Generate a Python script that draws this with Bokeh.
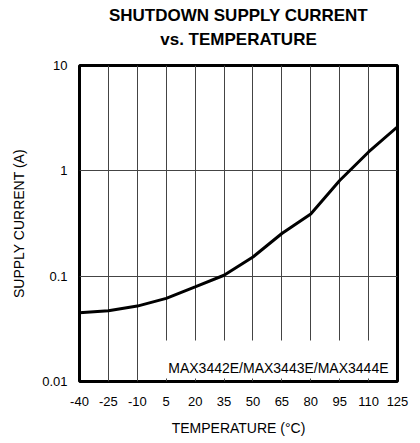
import math
from bokeh.plotting import figure
from bokeh.models import FixedTicker, Label, Title, ColumnDataSource
from bokeh.embed import file_html
from bokeh.resources import INLINE

# data
temps = [-40, -25, -10, 5, 20, 35, 50, 65, 80, 95, 110, 125]
current = [0.045, 0.047, 0.052, 0.0615, 0.079, 0.102, 0.152, 0.254, 0.39, 0.81, 1.51, 2.62]
x_ticks = [-40, -25, -10, 5, 20, 35, 50, 65, 80, 95, 110, 125]
x_tick_labels = ["-40", "-25", "-10", "5", "20", "35", "50", "65", "80", "95", "110", "125"]
y_ticks = [0.01, 0.1, 1, 10]
y_tick_labels = ["0.01", "0.1", "1", "10"]
title_lines = ["SHUTDOWN SUPPLY CURRENT", "vs. TEMPERATURE"]

FONT = "Liberation Sans"
x_lo, x_hi = x_ticks[0], x_ticks[-1]
y_lo, y_hi = y_ticks[0], y_ticks[-1]

p = figure(
    output_backend="svg", toolbar_location=None,
    frame_width=318, frame_height=316,
    min_border_left=79, min_border_right=15, min_border_top=65, min_border_bottom=54,
    x_range=(x_lo, x_hi), y_range=(y_lo, y_hi), y_axis_type="log",
)

# spacer between frame and the title block, then the two title lines
p.add_layout(Title(text=" ", text_font=FONT, text_font_size="10px", standoff=4), "above")
p.add_layout(Title(text=title_lines[1], align="center", text_font=FONT,
                   text_font_size="17px", text_font_style="bold",
                   text_color="black", standoff=0), "above")
p.add_layout(Title(text=title_lines[0], align="center", text_font=FONT,
                   text_font_size="17px", text_font_style="bold",
                   text_color="black", standoff=6), "above")

src = ColumnDataSource(dict(t=temps, c=current))
p.line("t", "c", source=src, line_color="black", line_width=3)

p.outline_line_color = "black"
p.outline_line_width = 3
p.outline_line_alpha = 1

p.xaxis.ticker = FixedTicker(ticks=x_ticks)
p.xaxis.major_label_overrides = {v: s for v, s in zip(x_ticks, x_tick_labels)}
p.yaxis.ticker = FixedTicker(ticks=y_ticks)
p.yaxis.major_label_overrides = {v: s for v, s in zip(y_ticks, y_tick_labels)}
for ax in (p.xaxis[0], p.yaxis[0]):
    ax.axis_line_color = None
    ax.major_tick_line_color = None
    ax.minor_tick_line_color = None
    ax.major_tick_out = 0
    ax.major_tick_in = 0
    ax.minor_tick_out = 0
    ax.minor_tick_in = 0
    ax.major_label_text_font = FONT
    ax.major_label_text_font_size = "13px"
    ax.major_label_text_color = "black"
    ax.axis_label_text_font = FONT
    ax.axis_label_text_font_size = "14px"
    ax.axis_label_text_font_style = "normal"
    ax.axis_label_text_color = "black"
p.xaxis.axis_label = "TEMPERATURE (°C)"
p.yaxis.axis_label = "SUPPLY CURRENT (A)"
p.xaxis.major_label_standoff = 15
p.yaxis.major_label_standoff = 12
p.xaxis.axis_label_standoff = 11
p.yaxis.axis_label_standoff = 12

p.xgrid.ticker = FixedTicker(ticks=x_ticks)
p.ygrid.ticker = FixedTicker(ticks=y_ticks)
for g in (p.xgrid[0], p.ygrid[0]):
    g.grid_line_color = "#444444"
    g.grid_line_width = 1
    g.grid_line_alpha = 1

p.background_fill_color = "white"
p.border_fill_color = "white"

note = Label(x=x_hi, y=y_lo, text="MAX3442E/MAX3443E/MAX3444E",
             text_align="right", text_baseline="bottom",
             x_offset=-5, y_offset=3,
             text_font=FONT, text_font_size="14px", text_color="black",
             background_fill_color="white", background_fill_alpha=1,
             padding=dict(left=5, right=4, top=19, bottom=3))
p.add_layout(note)

toc = Label(x=x_hi, y=y_hi, text="MAX3443E toc03", angle=math.pi / 2,
            text_align="right", text_baseline="middle",
            x_offset=10, y_offset=0,
            text_font=FONT, text_font_size="7.5px", text_color="black")
p.add_layout(toc)

open("out.html", "w").write(file_html(p, INLINE))
